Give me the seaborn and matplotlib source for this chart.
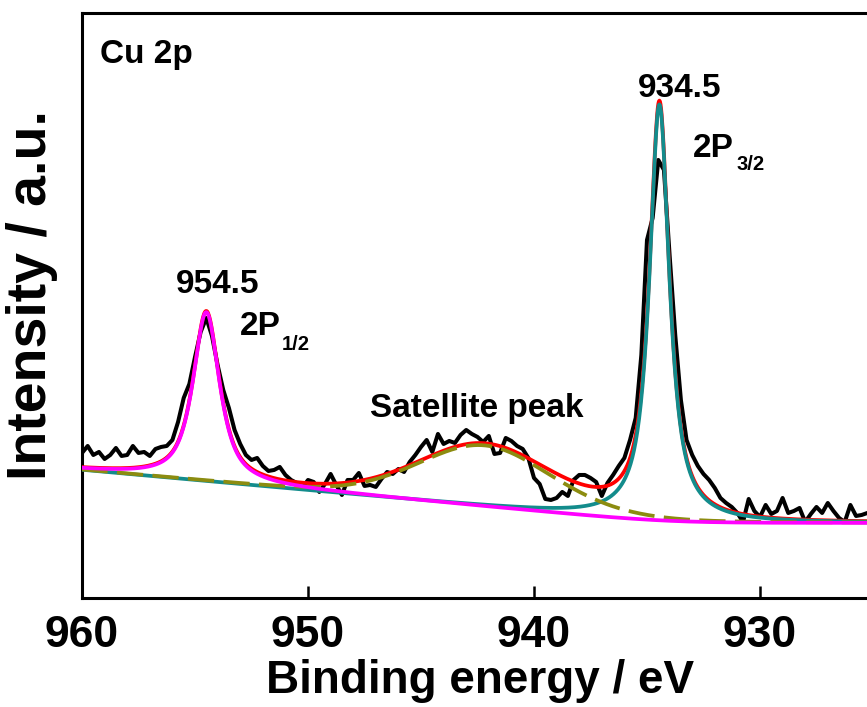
import numpy as np
import pandas as pd
import matplotlib
matplotlib.use("Agg")
import matplotlib.pyplot as plt
import seaborn as sns

# ---------------- data ----------------
energy_start = 960.0      # eV
energy_step = -0.25       # eV
intensity = [
    147, 154, 145, 148, 141, 145, 152, 144, 145, 154,
    147, 148, 144, 151, 153, 154, 160, 178, 202, 216,
    243, 268, 282, 264, 235, 210, 192, 170, 156, 145,
    140, 142, 134, 129, 130, 133, 125, 120, 117, 112,
    120, 118, 108, 116, 126, 115, 105, 120, 120, 127,
    114, 115, 113, 121, 128, 126, 131, 128, 138, 145,
    153, 160, 148, 166, 156, 159, 157, 165, 170, 166,
    163, 158, 164, 146, 147, 162, 159, 154, 151, 142,
    122, 116, 101, 100, 102, 108, 104, 120, 125, 125,
    122, 118, 104, 117, 125, 134, 142, 160, 182, 245,
    360, 382, 440, 430, 345, 265, 200, 160, 145, 134,
    126, 120, 112, 102, 97, 93, 87, 78, 101, 89,
    83, 95, 86, 89, 102, 87, 89, 92, 78, 86,
    93, 87, 97, 89, 82, 78, 95, 84, 85, 87,
]
energy = energy_start + energy_step * np.arange(len(intensity))

# fitted components (pseudo-Voigt): name, centre (eV), height, FWHM (eV), Lorentz fraction
peak_names = ["2P1/2", "2P3/2", "Satellite"]
peak_centres = [954.5, 934.45, 942.2]
peak_heights = [169, 416, 61]
peak_fwhm = [1.4, 1.05, 7.0]
peak_eta = [0.8, 0.9, 0.2]

# background parameters (smooth step background)
bg_low = 77.0
bg_slope = 2.05
bg_knee = 934.1
bg_width = 1.5

# ---------------- model curves ----------------
E = np.linspace(925.0, 960.0, 1401)


def background(x):
    return bg_low + bg_slope * bg_width * np.log1p(np.exp((x - bg_knee) / bg_width))


def pvoigt(x, c, h, w, eta):
    L = 1.0 / (1.0 + ((x - c) / (w / 2.0)) ** 2)
    G = np.exp(-4.0 * np.log(2.0) * ((x - c) / w) ** 2)
    return h * (eta * L + (1.0 - eta) * G)


bg = background(E)
comps = [pvoigt(E, c, h, w, e) for c, h, w, e in
         zip(peak_centres, peak_heights, peak_fwhm, peak_eta)]
envelope = bg + sum(comps)

df_data = pd.DataFrame({"E": energy, "I": intensity})
df_fit = pd.DataFrame({"E": E, "env": envelope,
                       "p12": bg + comps[0], "p32": bg + comps[1], "sat": bg + comps[2]})

# ---------------- figure ----------------
sns.set_theme(style="white")
plt.rcParams["font.family"] = ["Liberation Sans", "DejaVu Sans"]
plt.rcParams["font.weight"] = "bold"
plt.rcParams["text.color"] = "black"
plt.rcParams["axes.labelcolor"] = "black"
plt.rcParams["xtick.bottom"] = True

fig = plt.figure(figsize=(8.67, 7.07), dpi=100)
ax = fig.add_axes([0.0946, 0.1542, 0.9123, 0.8275])

lw = 2.7
sns.lineplot(data=df_data, x="E", y="I", ax=ax, color="black", lw=2.9,
             estimator=None, sort=False, zorder=2)
sns.lineplot(data=df_fit, x="E", y="env", ax=ax, color="#FF0000", lw=lw,
             estimator=None, sort=False, zorder=3)
sns.lineplot(data=df_fit, x="E", y="p32", ax=ax, color="#138C8C", lw=lw,
             estimator=None, sort=False, zorder=4)
sns.lineplot(data=df_fit, x="E", y="sat", ax=ax, color="#8C8C10", lw=lw,
             estimator=None, sort=False, zorder=5, linestyle=(0, (7, 2.5)))
sns.lineplot(data=df_fit, x="E", y="p12", ax=ax, color="#FF00FF", lw=lw,
             estimator=None, sort=False, zorder=6)

ax.set_xlim(960, 925)
ax.set_ylim(2, 587)
ax.set_xticks([960, 950, 940, 930])
ax.set_xticklabels(["960", "950", "940", "930"])
ax.set_yticks([])
ax.tick_params(axis="x", direction="in", length=9, width=1.8, pad=12,
               labelsize=32, colors="black", bottom=True, top=False)
for lab in ax.get_xticklabels():
    lab.set_fontweight("bold")
for s in ax.spines.values():
    s.set_linewidth(2.2)
    s.set_color("black")

ax.set_xlabel("Binding energy / eV", fontsize=33, fontweight="bold", color="black")
ax.xaxis.set_label_coords(0.503, -0.104)
ax.set_ylabel("Intensity / a.u.", fontsize=40, fontweight="bold", color="black")
ax.yaxis.set_label_coords(-0.03, 0.518)

tk = dict(fontsize=24, fontweight="bold", color="black", va="baseline")
ax.text(959.2, 537, "Cu 2p", ha="left", **tk)
ax.text(933.54, 503, "934.5", ha="center", **tk)
ax.text(953.98, 307, "954.5", ha="center", **tk)
ax.text(953.0, 265, "2P", ha="left", **tk)
ax.text(951.15, 250, "1/2", ha="left", fontsize=14.5, fontweight="bold", va="baseline", color="black")
ax.text(932.96, 443, "2P", ha="left", **tk)
ax.text(931.02, 430, "3/2", ha="left", fontsize=14.5, fontweight="bold", va="baseline", color="black")
ax.text(947.26, 183, "Satellite peak", ha="left", **tk)

fig.savefig("out.png", dpi=100)
